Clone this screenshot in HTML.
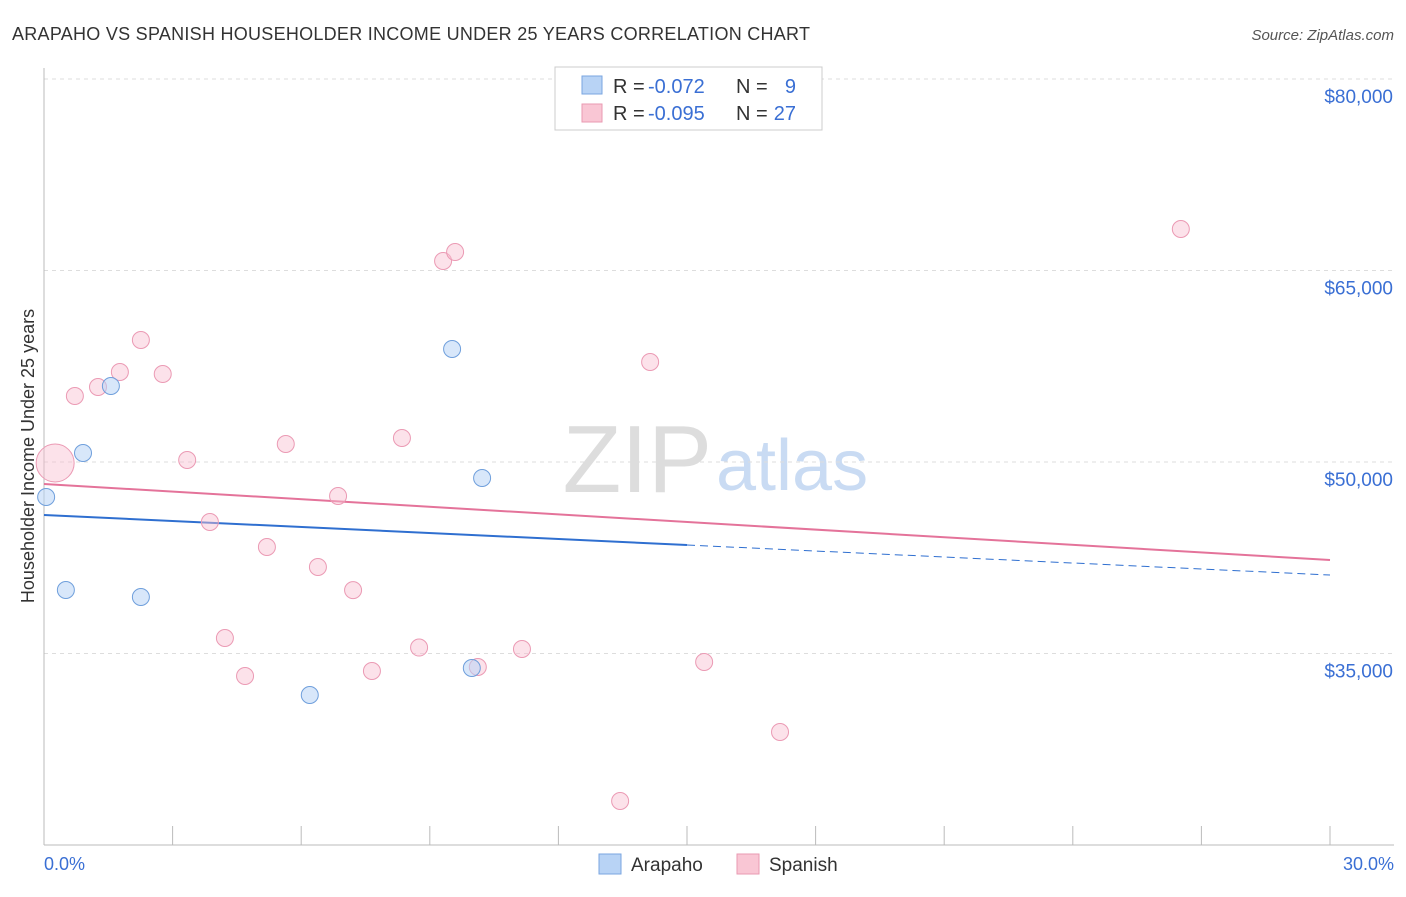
<!DOCTYPE html>
<html><head><meta charset="utf-8"><style>
body{margin:0;background:#fff;font-family:"Liberation Sans",sans-serif;}
svg text{font-family:"Liberation Sans",sans-serif;}
</style></head><body>
<svg id="chart" width="1406" height="892">
<text x="12" y="40" font-size="18" fill="#333" textLength="798">ARAPAHO VS SPANISH HOUSEHOLDER INCOME UNDER 25 YEARS CORRELATION CHART</text>
<text x="1394" y="40" font-size="15" fill="#555" font-style="italic" text-anchor="end">Source: ZipAtlas.com</text>
<text x="712" y="492" font-size="96" fill="#ddd" font-family="Liberation Serif" text-anchor="end">ZIP</text>
<text x="716" y="490" font-size="72" fill="#c9dbf3">atlas</text>
<text transform="translate(34,456) rotate(-90)" font-size="18" fill="#333" text-anchor="middle">Householder Income Under 25 years</text>
<g id="grid"></g><g id="axes"></g><g id="lines"></g><g id="pts"></g>
<g>
<rect x="555" y="67" width="267" height="63" fill="#fff" stroke="#ccc"/>
<rect x="582" y="76" width="20" height="18" fill="#b8d3f5" stroke="#7aa6e0"/>
<rect x="582" y="104" width="20" height="18" fill="#f9c6d4" stroke="#e99ab2"/>
<text x="613" y="93" font-size="20" fill="#333">R =</text>
<text x="648" y="93" font-size="20" fill="#3a6fd4">-0.072</text>
<text x="736" y="93" font-size="20" fill="#333">N =</text>
<text x="796" y="93" font-size="20" fill="#3a6fd4" text-anchor="end">9</text>
<text x="613" y="120" font-size="20" fill="#333">R =</text>
<text x="648" y="120" font-size="20" fill="#3a6fd4">-0.095</text>
<text x="736" y="120" font-size="20" fill="#333">N =</text>
<text x="796" y="120" font-size="20" fill="#3a6fd4" text-anchor="end">27</text>
</g>
<text x="44" y="870" font-size="18" fill="#3a6fd4">0.0%</text>
<text x="1394" y="870" font-size="18" fill="#3a6fd4" text-anchor="end">30.0%</text>
<g>
<rect x="599" y="854" width="22" height="20" fill="#b8d3f5" stroke="#7aa6e0"/>
<text x="631" y="871" font-size="19" fill="#333">Arapaho</text>
<rect x="737" y="854" width="22" height="20" fill="#f9c6d4" stroke="#e99ab2"/>
<text x="769" y="871" font-size="19" fill="#333">Spanish</text>
</g>
</svg>
<script>
const yTicks=[35000,50000,65000,80000];
const yTickLabels=["$35,000","$50,000","$65,000","$80,000"];
const arapahoX=[0.05,0.91,1.56,0.51,2.26,6.2,9.52,10.22,9.98];
const arapahoY=[47258,50705,55953,39973,39425,31749,58851,48746,33863];
const spanishX=[0.26,0.72,1.26,1.77,2.26,2.77,3.34,3.87,4.22,4.69,5.2,5.64,6.39,6.86,7.21,7.65,8.35,8.75,9.31,9.59,10.12,11.15,13.44,14.14,15.4,17.17,26.52];
const spanishY=[49922,55169,55874,57049,59556,56893,50156,45300,36213,33236,43342,51410,41775,47336,39965,33628,51880,35466,65744,66449,33941,35351,23445,57833,34333,28850,68250];
const arapahoTrend=[45848,41148];
const spanishTrend=[48277,42323];
const NS="http://www.w3.org/2000/svg";
const X=v=>44+v*(1330-44)/30;
const Y=v=>79+(80000-v)*191.5/15000;
function mk(p,t,a){const e=document.createElementNS(NS,t);for(const k in a)e.setAttribute(k,a[k]);document.getElementById(p).appendChild(e);return e;}
yTicks.forEach((t,i)=>{
 const l=mk('grid','line',{x1:44,x2:1394,y1:Y(t),y2:Y(t),stroke:'#ddd','stroke-dasharray':'4,4'});
 
 
 const tx=mk('grid','text',{x:1393,y:Y(t)+24,'font-size':19,fill:'#3a6fd4','text-anchor':'end'});
 tx.textContent=yTickLabels[i];
 
 
});
let a=mk('axes','line',{x1:44,x2:44,y1:68,y2:845,stroke:'#bbb'});


a=mk('axes','line',{x1:44,x2:1394,y1:845,y2:845,stroke:'#bbb'});


for(let i=0;i<=10;i++){const t=mk('axes','line',{x1:X(i*3),x2:X(i*3),y1:826,y2:845,stroke:'#bbb'});
 
 }
const slope=(arapahoTrend[1]-arapahoTrend[0])/30;
let l=mk('lines','line',{x1:X(0),y1:Y(arapahoTrend[0]),x2:X(15),y2:Y(arapahoTrend[0]+slope*15),stroke:'#2f6fd0','stroke-width':2});


l=mk('lines','line',{x1:X(15),y1:Y(arapahoTrend[0]+slope*15),x2:X(30),y2:Y(arapahoTrend[1]),stroke:'#2f6fd0','stroke-width':1,'stroke-dasharray':'8,5'});


l=mk('lines','line',{x1:X(0),y1:Y(spanishTrend[0]),x2:X(30),y2:Y(spanishTrend[1]),stroke:'#e4739a','stroke-width':2});


spanishX.forEach((x,i)=>{const c=mk('pts','circle',{cx:X(x),cy:Y(spanishY[i]),r:i==0?19:8.5,fill:'rgba(249,190,208,0.45)',stroke:'#eb9ab4','stroke-width':1});
 
 });
arapahoX.forEach((x,i)=>{const c=mk('pts','circle',{cx:X(x),cy:Y(arapahoY[i]),r:8.5,fill:'rgba(184,211,245,0.55)',stroke:'#6f9fdc','stroke-width':1});
 
 });
</script>
</body></html>
